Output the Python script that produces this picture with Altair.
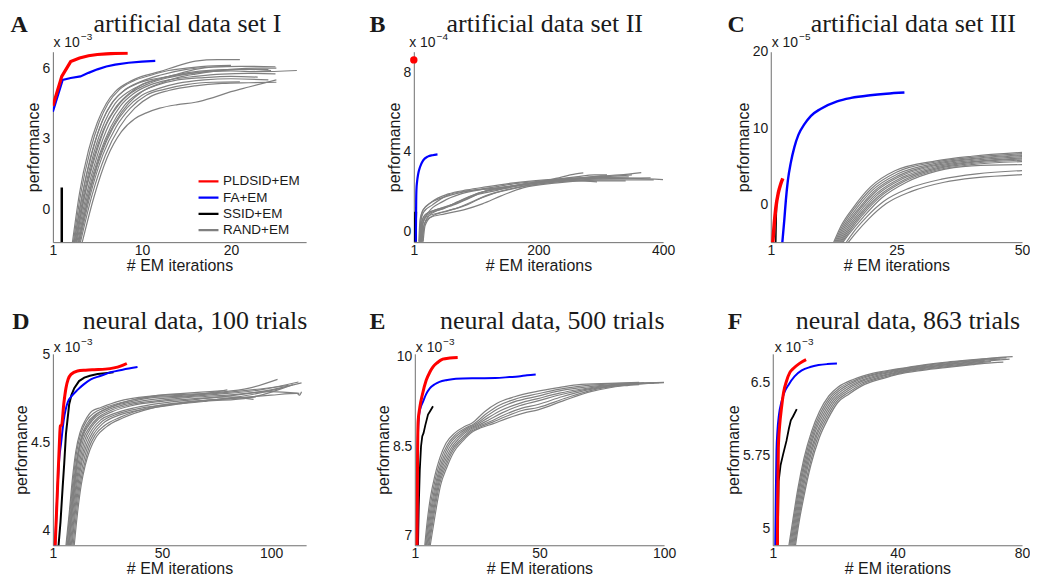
import altair as alt
import pandas as pd

METHODS = ["PLDSID+EM", "FA+EM", "SSID+EM", "RAND+EM"]
COLORS = ["#ff0000", "#0000ff", "#000000", "#808080"]
COLOR_OF = dict(zip(METHODS, COLORS))

# ---------------- Panel A: artificial data set I (performance x 1e-3)
A_PLDSID = [(0, 4.4), (1, 5.65), (2, 6.28), (3, 6.43), (4, 6.53), (5, 6.58), (6, 6.61), (7, 6.63), (8.4, 6.64)]
A_FA = [(0, 4.15), (1.1, 5.5), (2, 5.58), (3.1, 5.65), (4, 5.8), (5, 5.95), (6, 6.07), (7, 6.15), (8.5, 6.23), (10, 6.28), (11.5, 6.31)]
A_SSID = [(1.0, -1.4), (1.0, 0.92)]
A_RAND = [
    [(2.2, -1.4), (3.0, 0.7), (4.0, 2.5), (5.0, 3.7), (6.0, 4.5), (7.0, 5.0), (8.5, 5.4), (10, 5.65), (12, 5.85), (14, 6.1), (16, 6.3), (18.5, 6.36), (21, 6.36)],
    [(2.3, -1.4), (3.2, 0.8), (4.2, 2.5), (5.2, 3.7), (6.2, 4.5), (7.5, 5.1), (9, 5.45), (11, 5.7), (13, 5.9), (15, 6.0), (18, 6.1), (20, 6.12)],
    [(2.4, -1.4), (3.3, 0.6), (4.4, 2.4), (5.5, 3.7), (6.6, 4.5), (8, 5.05), (10, 5.45), (12, 5.7), (15, 5.95), (18, 6.05), (21, 6.08), (25, 6.06)],
    [(2.5, -1.4), (3.5, 0.7), (4.6, 2.4), (5.8, 3.7), (7, 4.5), (8.5, 5.0), (10, 5.3), (12, 5.55), (15, 5.8), (18, 5.92), (21, 5.95), (24.2, 5.94)],
    [(2.6, -1.4), (3.6, 0.6), (4.8, 2.3), (6, 3.6), (7.3, 4.4), (8.8, 4.95), (10.5, 5.3), (13, 5.6), (16, 5.8), (20, 5.88), (23, 5.85), (27.4, 5.9)],
    [(2.7, -1.4), (3.7, 0.5), (5.0, 2.3), (6.3, 3.6), (7.6, 4.4), (9, 4.9), (11, 5.3), (13, 5.5), (16, 5.65), (19, 5.75), (22, 5.78), (25, 5.76)],
    [(2.8, -1.4), (3.9, 0.6), (5.2, 2.3), (6.5, 3.5), (8, 4.4), (9.5, 4.9), (11.5, 5.25), (14, 5.5), (17, 5.6), (20, 5.65), (23, 5.62)],
    [(2.9, -1.4), (4.0, 0.5), (5.4, 2.3), (6.8, 3.5), (8.3, 4.3), (10, 4.85), (12, 5.15), (14, 5.35), (17, 5.5), (20, 5.55), (24.2, 5.5)],
    [(3.0, -1.4), (4.2, 0.6), (5.6, 2.3), (7.1, 3.5), (8.7, 4.3), (10.5, 4.85), (12.5, 5.1), (15, 5.3), (18, 5.4), (21, 5.42)],
    [(3.1, -1.4), (4.4, 0.6), (5.9, 2.3), (7.5, 3.5), (9.2, 4.3), (11, 4.8), (13, 5.05), (16, 5.25), (19, 5.35), (22, 5.38), (25.1, 5.4)],
    [(3.3, -1.4), (4.6, 0.5), (6.1, 2.2), (7.7, 3.3), (9.2, 3.85), (10.5, 4.1), (12, 4.3), (14, 4.45), (16, 4.55), (18, 4.75), (20, 5.0), (22, 5.2), (25.1, 5.5)],
    [(2.4, -1.4), (3.4, 0.8), (4.5, 2.6), (5.6, 3.8), (6.8, 4.6), (8, 5.05), (9.5, 5.35), (11.5, 5.55), (14, 5.7), (17, 5.85), (20, 5.95), (23, 6.0), (25.1, 6.0)],
    [(2.6, -1.4), (3.5, 0.5), (4.6, 2.2), (5.7, 3.4), (7, 4.3), (8.5, 4.9), (10, 5.3), (12, 5.55), (14, 5.75), (16, 5.95), (18, 6.05), (19.5, 6.07)],
    [(2.9, -1.4), (4.1, 0.7), (5.5, 2.5), (7, 3.7), (8.5, 4.5), (10, 5.0), (12, 5.35), (14, 5.6), (16, 5.75), (19, 5.9), (22, 5.95), (24.5, 5.9)],
]

# ---------------- Panel B: artificial data set II (x 1e-4)
B_PLDSID = [(0, 8.62)]
B_FA = [(3.2, -0.5), (3.5, 0.5), (3.8, 1.5), (4.2, 2.1), (5.2, 2.5), (7, 2.9), (10, 3.25), (15, 3.58), (23, 3.78), (30, 3.84), (38, 3.88)]
B_SSID = [(2.5, -0.5), (2.7, 0.6), (3.0, 1.0)]
B_RAND = [
    [(8, -0.5), (10, 0.6), (14, 1.05), (25, 1.4), (50, 1.75), (80, 2.0), (120, 2.2), (160, 2.4), (220, 2.62), (260, 2.9), (272, 2.95)],
    [(9, -0.5), (11, 0.5), (16, 1.0), (30, 1.35), (55, 1.85), (85, 2.05), (120, 2.15), (170, 2.35), (230, 2.6), (290, 2.75), (310, 2.8)],
    [(10, -0.5), (12, 0.4), (18, 0.85), (35, 1.1), (60, 1.3), (90, 1.7), (120, 2.1), (160, 2.3), (220, 2.55), (300, 2.72), (345, 2.75)],
    [(10.5, -0.5), (13, 0.5), (20, 0.9), (40, 1.15), (70, 1.45), (100, 1.85), (130, 2.05), (180, 2.4), (240, 2.6), (300, 2.8), (330, 2.85), (365, 2.97)],
    [(11, -0.5), (13.5, 0.3), (20.5, 0.75), (40.5, 0.95), (70.5, 1.2), (100.5, 1.6), (130.5, 1.95), (170, 2.25), (230, 2.5), (300, 2.65), (380, 2.7)],
    [(12, -0.5), (14, 0.4), (22, 0.85), (45, 1.15), (75, 1.55), (105, 1.95), (140, 2.15), (190, 2.4), (250, 2.6), (320, 2.7), (400, 2.62)],
    [(12.5, -0.5), (15, 0.5), (24, 1.0), (45.5, 1.5), (75.5, 1.9), (105.5, 2.1), (140.5, 2.2), (190.5, 2.45), (250.5, 2.6), (300, 2.55), (340, 2.55)],
    [(13, -0.5), (16, 0.3), (25, 0.7), (50, 0.9), (80, 1.1), (110, 1.4), (140, 1.8), (175, 2.2), (230, 2.45), (300, 2.6), (385, 2.6)],
    [(14, -0.5), (17, 0.4), (26, 0.85), (50.5, 1.2), (80.5, 1.65), (110.5, 2.0), (150, 2.25), (200, 2.5), (260, 2.75), (290, 2.85), (310, 2.85)],
    [(15, -0.5), (18, 0.3), (28, 0.75), (55, 1.05), (85, 1.35), (115, 1.8), (150.5, 2.1), (200.5, 2.4), (260.5, 2.55), (294, 2.5)],
    [(9.5, -0.5), (11.5, 0.6), (15, 1.1), (28.5, 1.5), (55.5, 1.9), (85.5, 2.1), (115.5, 2.25), (160.5, 2.45), (210, 2.6), (260, 2.7), (300, 2.75), (350, 2.85)],
]

# ---------------- Panel C: artificial data set III (x 1e-5)
C_PLDSID = [(0.4, -5), (0.7, -2.5), (1.0, -0.5), (1.5, 1.5), (2.0, 2.7), (2.4, 3.4)]
C_FA = [(2.3, -5), (2.7, -2), (3.0, 0.5), (3.4, 3.1), (4, 5.5), (4.7, 7.5), (5.5, 9.1), (6.7, 10.5), (8, 11.6), (9.9, 12.5),
        (13.2, 13.5), (16, 13.95), (19.8, 14.3), (23, 14.5), (26.6, 14.65)]
C_SSID = [(1.0, -5), (1.1, -1.5), (1.2, 0.6)]
C_RAND = [
    [(12.5, -5), (14, -2.8), (16.5, -0.35), (19.8, 2.25), (24.7, 4.4), (32.9, 5.7), (40, 6.3), (50, 6.8)],
    [(12.7, -5), (14.2, -2.9), (16.7, -0.5), (20, 2.05), (25, 4.2), (33, 5.55), (40, 6.15), (50, 6.65)],
    [(12.9, -5), (14.4, -3.0), (17, -0.6), (20.3, 1.9), (25.3, 4.0), (33, 5.4), (40, 6.0), (50, 6.5)],
    [(13.1, -5), (14.6, -3.1), (17.2, -0.8), (20.5, 1.7), (25.5, 3.8), (33, 5.25), (40, 5.9), (50, 6.4)],
    [(13.3, -5), (14.8, -3.2), (17.4, -0.9), (20.7, 1.55), (25.7, 3.65), (33, 5.1), (40, 5.75), (50, 6.25)],
    [(13.5, -5), (15, -3.3), (17.6, -1.05), (21, 1.4), (26, 3.5), (33, 4.95), (40, 5.6), (50, 6.1)],
    [(13.7, -5), (15.2, -3.4), (17.8, -1.2), (21.2, 1.25), (26.2, 3.35), (33, 4.8), (40, 5.5), (50, 5.95)],
    [(13.9, -5), (15.4, -3.5), (18, -1.3), (21.5, 1.1), (26.5, 3.2), (33, 4.65), (40, 5.35), (50, 5.8)],
    [(14.1, -5), (15.6, -3.6), (18.2, -1.45), (21.7, 0.95), (26.7, 3.05), (33, 4.5), (40, 5.2), (50, 5.6)],
    [(14.3, -5), (15.8, -3.7), (18.5, -1.6), (22, 0.8), (27, 2.9), (33, 4.35), (40, 5.05), (50, 5.2)],
    [(15.0, -5), (16.5, -3.6), (19, -1.7), (22.5, 0.4), (27.5, 2.1), (34, 3.3), (41, 4.0), (50, 4.43)],
    [(15.4, -5), (17, -3.7), (19.5, -1.9), (23, 0.1), (28, 1.7), (34.5, 2.9), (41, 3.5), (50, 3.9)],
]

# ---------------- Panel D: neural data, 100 trials (x 1e-3)
D_PLDSID = [(1.0, 3.9), (2, 4.2), (3, 4.5), (3.4, 4.595), (4, 4.6), (5, 4.72), (6, 4.81), (7, 4.86), (8.3, 4.888), (11.3, 4.907),
            (15, 4.912), (18.9, 4.915), (24, 4.918), (28, 4.925), (31, 4.935), (33.9, 4.95)]
D_FA = [(1.0, 3.9), (2, 4.2), (3, 4.42), (3.7, 4.49), (5, 4.63), (6.8, 4.73), (9, 4.77), (11.3, 4.80), (14, 4.83), (17.4, 4.86),
        (22, 4.88), (26.5, 4.9), (32, 4.915), (38.8, 4.93)]
D_SSID = [(2.5, 3.9), (3.5, 4.05), (4.5, 4.25), (5.2, 4.38), (6, 4.55), (7.5, 4.72), (8.5, 4.77), (9.8, 4.81), (12, 4.85),
          (14.4, 4.87), (17, 4.88), (20.5, 4.89), (24, 4.895), (27.8, 4.9)]
D_RAND = [
    [(6.0, 3.917), (7.5, 4.1), (9, 4.3), (10.5, 4.45), (12.5, 4.56), (15, 4.63), (18, 4.68), (22, 4.70), (30, 4.735), (45, 4.765), (60, 4.775), (70, 4.78), (80, 4.80)],
    [(6.3, 3.917), (7.8, 4.1), (9.3, 4.29), (10.8, 4.44), (12.8, 4.55), (15.5, 4.625), (19, 4.67), (23, 4.695), (32, 4.73), (45, 4.76), (60, 4.77), (75, 4.785), (90, 4.81), (103, 4.86)],
    [(6.6, 3.917), (8.1, 4.1), (9.6, 4.28), (11.2, 4.43), (13.2, 4.54), (16, 4.615), (19.5, 4.66), (24, 4.69), (33, 4.725), (45, 4.755), (60, 4.765), (75, 4.78), (95, 4.805), (108, 4.825)],
    [(7.0, 3.917), (8.5, 4.1), (10, 4.27), (11.6, 4.42), (13.6, 4.53), (16.5, 4.6), (20, 4.65), (25, 4.685), (34, 4.72), (45, 4.745), (60, 4.76), (75, 4.775), (95, 4.8), (112.6, 4.845)],
    [(7.3, 3.917), (8.8, 4.1), (10.3, 4.27), (12, 4.41), (14, 4.52), (17, 4.59), (20.5, 4.64), (26, 4.68), (35, 4.715), (45, 4.735), (60, 4.755), (80, 4.77), (100, 4.79), (113, 4.78)],
    [(7.6, 3.917), (9.1, 4.1), (10.7, 4.27), (12.4, 4.4), (14.5, 4.51), (17.5, 4.585), (21, 4.635), (27, 4.675), (36, 4.71), (50, 4.735), (65, 4.75), (80, 4.76), (92, 4.746)],
    [(8.0, 3.917), (9.5, 4.1), (11, 4.26), (12.8, 4.39), (15, 4.5), (18, 4.575), (22, 4.63), (28, 4.665), (38, 4.7), (50, 4.725), (65, 4.745), (80, 4.765), (100, 4.8), (114, 4.84)],
    [(8.4, 3.917), (9.9, 4.1), (11.5, 4.26), (13.3, 4.39), (15.5, 4.49), (18.5, 4.565), (22.5, 4.62), (29, 4.66), (40, 4.695), (55, 4.72), (70, 4.74), (85, 4.76), (105, 4.81)],
    [(8.8, 3.917), (10.3, 4.1), (12, 4.26), (13.8, 4.38), (16, 4.48), (19, 4.555), (23, 4.61), (30, 4.655), (42, 4.69), (55, 4.715), (70, 4.735), (90, 4.755), (110, 4.83)],
    [(9.3, 3.917), (10.8, 4.1), (12.5, 4.26), (14.3, 4.37), (16.5, 4.47), (19.5, 4.545), (24, 4.6), (31, 4.645), (44, 4.70), (60, 4.73), (75, 4.745), (93, 4.76)],
    [(9.8, 3.917), (11.3, 4.1), (13, 4.26), (14.8, 4.37), (17, 4.46), (20, 4.535), (24.5, 4.59), (32, 4.64), (45, 4.695), (60, 4.725), (80, 4.75), (100, 4.77), (112, 4.78), (113, 4.77), (114, 4.79)],
    [(7.1, 3.917), (8.6, 4.12), (10.1, 4.3), (11.8, 4.45), (13.8, 4.55), (16.8, 4.615), (20, 4.66), (25, 4.695), (34, 4.735), (46, 4.765), (60, 4.78), (72, 4.79), (78, 4.795)],
]

# ---------------- Panel E: neural data, 500 trials (x 1e-3)
E_PLDSID = [(0.9, 6.84), (1.0, 7.5), (1.1, 8.3), (1.34, 8.92), (2, 9.15), (3, 9.36), (4.6, 9.61), (6, 9.74), (7.3, 9.83), (9, 9.9),
            (11.2, 9.96), (14, 9.98), (17.2, 9.99)]
E_FA = [(1.0, 6.84), (1.1, 8.0), (1.3, 8.75), (1.74, 9.03), (2.5, 9.17), (3.3, 9.25), (4.5, 9.37), (6, 9.47), (8, 9.54), (9.9, 9.58),
        (13, 9.61), (16.5, 9.63), (25, 9.64), (32.3, 9.645), (38, 9.66), (41.5, 9.67), (45, 9.69), (48.5, 9.705)]
E_SSID = [(1.3, 6.84), (1.6, 7.5), (2.0, 8.1), (2.5, 8.5), (3, 8.67), (3.5, 8.72), (4.2, 8.85), (5.3, 9.03), (6.3, 9.1), (7.3, 9.17)]
E_RAND = [
    [(4.0, 6.84), (5, 7.25), (6.3, 7.65), (8, 8.0), (10, 8.3), (12.5, 8.55), (16, 8.72), (20, 8.83), (23, 8.89), (28, 9.08), (33, 9.22), (40, 9.33), (49, 9.42), (57, 9.48), (65, 9.53), (78, 9.555), (90, 9.57)],
    [(4.3, 6.84), (5.3, 7.22), (6.6, 7.6), (8.3, 7.96), (10.4, 8.27), (13, 8.52), (16.5, 8.7), (20.5, 8.81), (23.5, 8.87), (28.5, 9.04), (33.5, 9.18), (41, 9.3), (49.4, 9.38), (57, 9.45), (65, 9.5), (78, 9.545), (92, 9.565)],
    [(4.6, 6.84), (5.6, 7.2), (7, 7.58), (8.7, 7.94), (10.8, 8.24), (13.4, 8.5), (17, 8.68), (21, 8.8), (24, 8.86), (29, 9.01), (34, 9.14), (41, 9.26), (49.4, 9.34), (57, 9.42), (66, 9.48), (79, 9.535), (95, 9.565)],
    [(4.9, 6.84), (5.9, 7.18), (7.3, 7.55), (9.0, 7.92), (11.2, 8.22), (13.8, 8.47), (17.5, 8.66), (21.5, 8.79), (24.5, 8.85), (29.5, 8.98), (34.5, 9.1), (42, 9.22), (49.4, 9.3), (58, 9.39), (67, 9.46), (80, 9.53), (100, 9.57)],
    [(5.2, 6.84), (6.2, 7.16), (7.6, 7.52), (9.3, 7.9), (11.6, 8.2), (14.3, 8.45), (18, 8.64), (22, 8.78), (25, 8.84), (30, 8.95), (35, 9.06), (42, 9.18), (49.4, 9.26), (58, 9.36), (68, 9.45), (81, 9.525), (98, 9.565)],
    [(5.5, 6.84), (6.5, 7.14), (7.9, 7.5), (9.6, 7.88), (12, 8.18), (14.7, 8.43), (18.5, 8.62), (22.5, 8.77), (25.5, 8.83), (30.5, 8.92), (35.5, 9.02), (43, 9.14), (49.4, 9.2), (59, 9.33), (69, 9.44), (82, 9.52), (96, 9.56)],
    [(5.8, 6.84), (6.8, 7.12), (8.2, 7.48), (9.9, 7.86), (12.4, 8.16), (15.2, 8.42), (19, 8.61), (23, 8.76), (26, 8.82), (31, 8.9), (36, 8.99), (43, 9.1), (49.4, 9.15), (60, 9.3), (70, 9.43), (83, 9.52), (100, 9.565)],
    [(6.2, 6.84), (7.2, 7.1), (8.6, 7.46), (10.3, 7.84), (12.8, 8.14), (15.6, 8.4), (19.5, 8.6), (23.5, 8.75), (26.5, 8.81), (31.5, 8.88), (36.5, 8.96), (44, 9.06), (49.4, 9.11), (60, 9.27), (71, 9.42), (84, 9.515), (90, 9.535)],
]

# ---------------- Panel F: neural data, 863 trials (x 1e-3)
F_PLDSID = [(1.5, 4.834), (1.6, 5.3), (1.8, 5.83), (2.2, 6.05), (2.8, 6.235), (3.5, 6.4), (4.4, 6.51), (5.5, 6.6), (6.6, 6.64), (8.5, 6.69), (10.7, 6.73)]
F_FA = [(0.8, 4.834), (1.0, 5.4), (1.2, 5.8), (1.5, 6.0), (2.0, 6.17), (2.8, 6.3), (3.8, 6.4), (5, 6.47), (7, 6.56), (9.3, 6.62),
        (12, 6.655), (14.7, 6.675), (17.5, 6.685), (20.6, 6.69)]
F_SSID = [(1.6, 4.834), (1.8, 5.3), (1.9, 5.49), (2.5, 5.65), (3.3, 5.76), (4.4, 5.9), (5.2, 6.03), (5.8, 6.11), (6.5, 6.15), (7.7, 6.225)]
F_RAND = [
    [(5.2, 4.834), (6.5, 5.1), (8.0, 5.4), (10.0, 5.72), (12.5, 6.0), (15.0, 6.2), (18.0, 6.36), (21.0, 6.45), (26, 6.53), (32, 6.59), (40, 6.635), (48, 6.675), (56, 6.705), (64.5, 6.73), (72, 6.752), (77, 6.762)],
    [(5.5, 4.834), (6.8, 5.1), (8.3, 5.4), (10.3, 5.71), (12.8, 5.99), (15.4, 6.19), (18.4, 6.35), (21.5, 6.44), (26.5, 6.522), (32.5, 6.583), (40, 6.628), (48, 6.668), (56, 6.698), (64.5, 6.724), (72, 6.746), (75, 6.75)],
    [(5.8, 4.834), (7.1, 5.1), (8.6, 5.4), (10.6, 5.7), (13.1, 5.98), (15.8, 6.18), (18.8, 6.34), (22, 6.43), (27, 6.515), (33, 6.577), (40, 6.62), (48, 6.66), (56, 6.69), (64.5, 6.717), (70, 6.73), (73, 6.735)],
    [(6.1, 4.834), (7.4, 5.1), (8.9, 5.39), (10.9, 5.69), (13.4, 5.97), (16.2, 6.17), (19.2, 6.33), (22.5, 6.42), (27.5, 6.507), (33.5, 6.57), (40, 6.612), (48, 6.652), (56, 6.683), (64.5, 6.71), (68, 6.72)],
    [(6.4, 4.834), (7.7, 5.1), (9.2, 5.38), (11.2, 5.68), (13.8, 5.96), (16.6, 6.16), (19.6, 6.32), (23, 6.41), (28, 6.5), (34, 6.562), (40, 6.604), (48, 6.645), (56, 6.676), (64.5, 6.703), (72, 6.725), (76, 6.735)],
    [(6.7, 4.834), (8.0, 5.1), (9.5, 5.37), (11.5, 5.67), (14.1, 5.95), (17, 6.15), (20, 6.31), (23.5, 6.4), (28.5, 6.492), (34.5, 6.555), (40, 6.596), (48, 6.638), (56, 6.668), (64.5, 6.695), (70, 6.71)],
    [(7.0, 4.834), (8.3, 5.1), (9.8, 5.36), (11.9, 5.66), (14.5, 5.94), (17.4, 6.14), (20.4, 6.3), (24, 6.39), (29, 6.484), (35, 6.548), (40, 6.588), (48, 6.63), (56, 6.66), (64.5, 6.688), (67, 6.695)],
    [(7.3, 4.834), (8.6, 5.1), (10.1, 5.35), (12.2, 5.65), (14.9, 5.93), (17.8, 6.13), (20.8, 6.29), (24.5, 6.38), (29.5, 6.477), (35.5, 6.54), (40, 6.58), (48, 6.622), (56, 6.652), (64.5, 6.68), (71, 6.7), (74, 6.705)],
]

# ---------------- panel texts and axes
PANEL_TEXT = {
    "A": ("A", "artificial data set I", "\u22123"),
    "B": ("B", "artificial data set II", "\u22124"),
    "C": ("C", "artificial data set III", "\u22125"),
    "D": ("D", "neural data, 100 trials", "\u22123"),
    "E": ("E", "neural data, 500 trials", "\u22123"),
    "F": ("F", "neural data, 863 trials", "\u22123"),
}
X_DOMAIN = {"A": [0, 28.44], "B": [0, 400], "C": [0, 50], "D": [0, 116.1], "E": [0, 100], "F": [0, 80]}
Y_DOMAIN = {"A": [-1.4, 6.7], "B": [-0.52, 9.03], "C": [-4.95, 20], "D": [3.917, 5.005], "E": [6.84, 10.05], "F": [4.834, 6.79]}
X_TICKS = {"A": [0, 10, 20], "B": [0, 200, 400], "C": [0, 25, 50], "D": [0, 50, 100], "E": [0, 50, 100], "F": [0, 40, 80]}
Y_TICKS = {"A": [0, 3, 6], "B": [0, 4, 8], "C": [0, 10, 20], "D": [4, 4.5, 5], "E": [7, 8.5, 10], "F": [5, 5.75, 6.5]}

# layout (pixels)
SIZE = {"A": (254, 191), "B": (250, 191), "C": (252, 191), "D": (254, 192), "E": (250, 192), "F": (250, 192)}
LETTER_DX = {"A": -42.4, "B": -44.4, "C": -43.4, "D": -40.7, "E": -45.4, "F": -45.1}
TITLE_CX = {"A": 135, "B": 131.3, "C": 143, "D": 142.6, "E": 137.9, "F": 135.6}
EXP_DX = {"A": 0.6, "B": -4.6, "C": 1, "D": 1, "E": 1, "F": 2}
TITLE_DY = {"A": -20, "B": -20, "C": -20, "D": -25, "E": -25, "F": -25}
EXP_DY = {"A": -5, "B": -5, "C": -5, "D": -2, "E": -2, "F": -2}

ONE = pd.DataFrame({"k": [0]})
INK = "#1a1a1a"


def to_df(curves, method):
    rows = []
    for i, c in enumerate(curves):
        for (x, y) in c:
            rows.append({"x": x, "y": y, "run": i, "method": method})
    return pd.DataFrame(rows)


def note(text, dx, dy, size, font="Liberation Sans", weight="normal", align="left"):
    return alt.Chart(ONE).mark_text(
        text=text, font=font, fontSize=size, fontWeight=weight, align=align,
        baseline="alphabetic", color=INK
    ).encode(x=alt.value(dx), y=alt.value(dy))


LEG = alt.Legend(
    title=None, orient="none", legendX=144.6, legendY=123, symbolType="stroke",
    symbolSize=400, symbolStrokeWidth=2.2, clipHeight=14, rowPadding=2.3,
    labelFont="Liberation Sans", labelFontSize=13.5, labelColor=INK, labelOffset=3, padding=0,
)


def panel(key, series, legend=False):
    w, h = SIZE[key]
    X = alt.X("x:Q", scale=alt.Scale(domain=X_DOMAIN[key], nice=False, zero=False),
              axis=alt.Axis(values=X_TICKS[key], title="# EM iterations",
                            labelExpr="datum.value == 0 ? '1' : '' + datum.value",
                            labelFlush=False, labelOverlap=False, labelPadding=1, titlePadding=0))
    Y = alt.Y("y:Q", scale=alt.Scale(domain=Y_DOMAIN[key], nice=False, zero=False),
              axis=alt.Axis(values=Y_TICKS[key], title="performance",
                            labelExpr="'' + datum.value",
                            labelFlush=False, labelOverlap=False, labelPadding=3, titlePadding=1))
    layers = []
    for method, curves, kind, width, interp in series:
        df = to_df(curves, method)
        if legend:
            color = alt.Color("method:N", scale=alt.Scale(domain=METHODS, range=COLORS), legend=LEG)
        else:
            color = alt.value(COLOR_OF[method])
        if kind == "line":
            layers.append(alt.Chart(df).mark_line(clip=True, strokeWidth=width, interpolate=interp)
                          .encode(x=X, y=Y, color=color, detail="run:N"))
        else:
            layers.append(alt.Chart(df).mark_circle(size=width, opacity=1, clip=False)
                          .encode(x=X, y=Y, color=color))
    letter, title, exp = PANEL_TEXT[key]
    layers.append(note(letter, LETTER_DX[key], TITLE_DY[key], 24, font="Liberation Serif", weight="bold"))
    layers.append(note(title, TITLE_CX[key], TITLE_DY[key], 26, font="Liberation Serif", align="center"))
    layers.append(note("x 10", EXP_DX[key], EXP_DY[key], 14))
    layers.append(note(exp, EXP_DX[key] + 27.5, EXP_DY[key] - 6.5, 10))
    return alt.layer(*layers).properties(width=w, height=h)


def std(rand, ssid, fa, pld, interp_main="monotone", sw=(1.2, 2.0, 2.2, 3.0)):
    return [
        ("RAND+EM", rand, "line", sw[0], "monotone"),
        ("SSID+EM", [ssid], "line", sw[1], "linear"),
        ("FA+EM", [fa], "line", sw[2], interp_main),
        ("PLDSID+EM", [pld], "line", sw[3], interp_main),
    ]


pA = panel("A", std(A_RAND, A_SSID, A_FA, A_PLDSID, interp_main="linear", sw=(1.2, 2.5, 2.2, 3.2)), legend=True)
pB = panel("B", [
    ("RAND+EM", B_RAND, "line", 1.2, "monotone"),
    ("SSID+EM", [B_SSID], "line", 3.0, "linear"),
    ("FA+EM", [B_FA], "line", 2.2, "monotone"),
    ("PLDSID+EM", [B_PLDSID], "point", 55, None),
])
pC = panel("C", std(C_RAND, C_SSID, C_FA, C_PLDSID, sw=(1.2, 1.5, 2.4, 3.5)))
pD = panel("D", std(D_RAND, D_SSID, D_FA, D_PLDSID, sw=(1.2, 2.0, 2.0, 3.0)))
pE = panel("E", std(E_RAND, E_SSID, E_FA, E_PLDSID, sw=(1.2, 1.8, 2.0, 3.0)))
pF = panel("F", std(F_RAND, F_SSID, F_FA, F_PLDSID, sw=(1.3, 1.8, 2.0, 3.0)))

row1 = alt.hconcat(pA, pB, pC, spacing=108, bounds="flush").resolve_scale(color="independent")
row2 = alt.hconcat(pD, pE, pF, spacing=109, bounds="flush").resolve_scale(color="independent")

chart = (
    alt.vconcat(row1, row2, spacing=35)
    .resolve_scale(color="independent")
    .properties(padding={"left": 2, "top": 2, "right": 0, "bottom": 0})
    .configure_view(stroke=None)
    .configure_axis(domainColor="#6e6e6e", domainWidth=1, labelColor=INK, titleColor=INK,
                    labelFont="Liberation Sans", titleFont="Liberation Sans", labelFontSize=14,
                    titleFontSize=16, titleFontWeight="normal", grid=False, ticks=False)
)

chart.save("out.html", embed_options={"renderer": "svg", "actions": False})
